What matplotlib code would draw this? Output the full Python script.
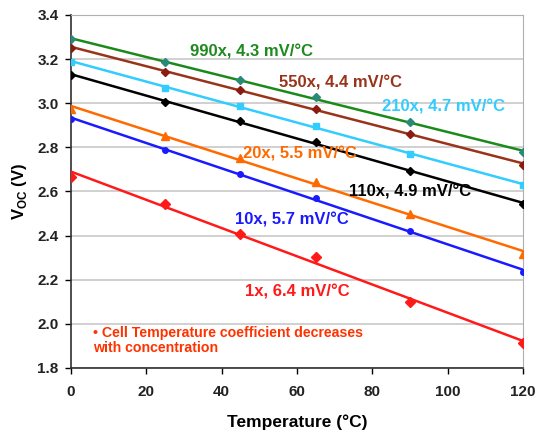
import numpy as np
import matplotlib
matplotlib.use("Agg")
import matplotlib.pyplot as plt

plt.rcParams['font.family'] = ['Liberation Sans', 'DejaVu Sans']

# temperatures (C) where Voc was measured
temps = [0, 25, 45, 65, 90, 120]

# Voc (V) for each concentration
voc_990 = [3.29, 3.185, 3.105, 3.03, 2.914, 2.777]
voc_550 = [3.252, 3.142, 3.062, 2.976, 2.862, 2.721]
voc_210 = [3.188, 3.071, 2.986, 2.897, 2.771, 2.630]
voc_110 = [3.127, 3.006, 2.920, 2.824, 2.692, 2.544]
voc_20 = [2.976, 2.850, 2.750, 2.643, 2.500, 2.317]
voc_10 = [2.930, 2.786, 2.680, 2.571, 2.423, 2.236]
voc_1 = [2.665, 2.544, 2.408, 2.305, 2.100, 1.912]

labels = ['990x, 4.3 mV/°C', '550x, 4.4 mV/°C', '210x, 4.7 mV/°C',
          '110x, 4.9 mV/°C', '20x, 5.5 mV/°C', '10x, 5.7 mV/°C', '1x, 6.4 mV/°C']

# series: data, line colour, marker colour, marker, size, label pos, text colour
series = [
    (voc_990, '#1a8a1a', '#2a8a7a', 'D', 4, (31.6, 3.232), '#1f8a1f'),
    (voc_550, '#99331a', '#8b1a10', 'D', 4, (55.3, 3.09), '#99331a'),
    (voc_210, '#33ccff', '#33ccff', 's', 5, (82.7, 2.984), '#33ccff'),
    (voc_110, '#000000', '#000000', 'D', 4, (73.9, 2.60), '#000000'),
    (voc_20, '#ff6a00', '#ff6a00', '^', 6, (45.7, 2.77), '#ff6a00'),
    (voc_10, '#1a1aff', '#1a1aff', 'o', 4, (43.5, 2.47), '#1a1aff'),
    (voc_1, '#ff1a1a', '#ff1a1a', 'D', 5, (46.2, 2.143), '#ff1a1a'),
]

fig = plt.figure(figsize=(5.36, 4.30), dpi=100)
ax = fig.add_axes([0.1325, 0.1442, 0.843, 0.821])

xfit = np.array([0, 120])
for (vals, lc, mc, mk, ms, (tx, ty), tc), lab in zip(series, labels):
    # linear fit through the measured points
    p = np.polyfit(temps, vals, 1)
    ax.plot(xfit, np.polyval(p, xfit), color=lc, lw=1.8, zorder=3)
    ax.plot(temps, vals, ls='none', marker=mk, ms=ms, color=mc, zorder=4)
    ax.text(tx, ty, lab, color=tc, fontsize=12, fontweight='bold',
            ha='left', va='center', zorder=5)

ax.text(5.9, 1.925, '• Cell Temperature coefficient decreases\nwith concentration',
        color='#ff3300', fontsize=10.2, fontweight='bold', ha='left', va='center',
        linespacing=1.15)

ax.set_xlim(0, 120)
ax.set_ylim(1.8, 3.4)
ax.set_xticks(range(0, 121, 20))
ax.set_yticks(np.arange(1.8, 3.41, 0.2))
ax.set_yticklabels(['%.1f' % v for v in np.arange(1.8, 3.41, 0.2)])
ax.grid(axis='y', color='#c8c8c8', lw=1.2)
ax.set_axisbelow(True)
for s in ['top', 'right']:
    ax.spines[s].set_color('#b0b0b0')
for s in ['left', 'bottom']:
    ax.spines[s].set_color('#303030')
    ax.spines[s].set_linewidth(1.2)
ax.tick_params(direction='out', length=4, width=1, labelsize=11)
ax.tick_params(axis='x', pad=8)
ax.tick_params(axis='y', pad=5)
for t in ax.get_xticklabels() + ax.get_yticklabels():
    t.set_fontweight('bold')
    t.set_color('#222222')

ax.set_xlabel('Temperature (°C)', fontsize=12.5, fontweight='bold', labelpad=11)
ax.set_ylabel('V$_{\\mathregular{OC}}$ (V)', fontsize=12, fontweight='bold', labelpad=6)

fig.savefig('out.png', dpi=100)
